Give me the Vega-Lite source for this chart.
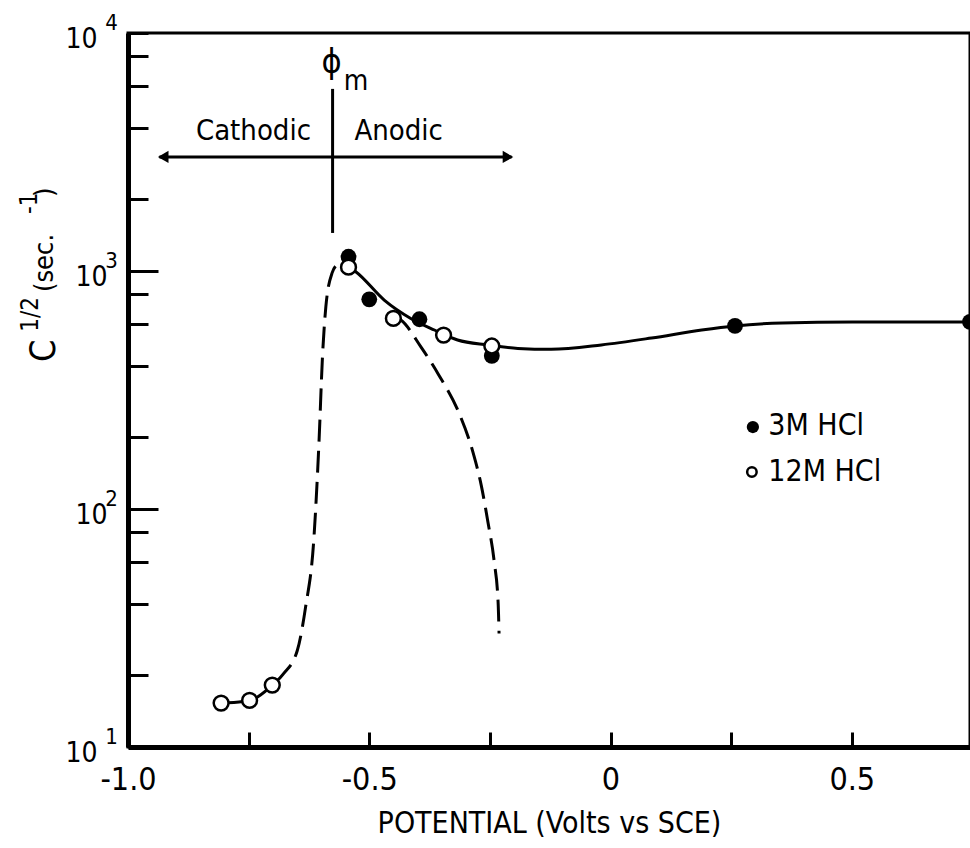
{
  "$schema": "https://vega.github.io/schema/vega-lite/v6.json",
  "width": 842,
  "height": 714,
  "autosize": {"type": "none"},
  "padding": {"left": 128, "top": 33, "right": 0, "bottom": 101},
  "background": "white",
  "config": {
    "view": {"stroke": "black", "strokeWidth": 3},
    "font": "Liberation Sans Narrow, DejaVu Sans Condensed, Liberation Sans",
    "text": {"color": "black"}
  },
  "datasets": {
    "solid": [
      {"x": -0.543, "y": 1040}, {"x": -0.528, "y": 993}, {"x": -0.469, "y": 755},
      {"x": -0.414, "y": 632}, {"x": -0.365, "y": 565}, {"x": -0.317, "y": 513},
      {"x": -0.254, "y": 489}, {"x": -0.192, "y": 473}, {"x": -0.123, "y": 469},
      {"x": -0.019, "y": 489}, {"x": 0.085, "y": 523}, {"x": 0.189, "y": 565},
      {"x": 0.258, "y": 588}, {"x": 0.356, "y": 605}, {"x": 0.501, "y": 611},
      {"x": 0.745, "y": 611}
    ],
    "dashL": [
      {"x": -0.807, "y": 15.3}, {"x": -0.748, "y": 15.7}, {"x": -0.701, "y": 18.2},
      {"x": -0.678, "y": 20.3}, {"x": -0.649, "y": 25.5}, {"x": -0.632, "y": 38.7},
      {"x": -0.615, "y": 74}, {"x": -0.604, "y": 195}, {"x": -0.597, "y": 435},
      {"x": -0.590, "y": 706}, {"x": -0.577, "y": 982}, {"x": -0.563, "y": 1082},
      {"x": -0.549, "y": 1125}
    ],
    "dashR": [
      {"x": -0.450, "y": 645}, {"x": -0.4345, "y": 622}, {"x": -0.393, "y": 480},
      {"x": -0.356, "y": 366}, {"x": -0.314, "y": 253}, {"x": -0.285, "y": 173},
      {"x": -0.268, "y": 126}, {"x": -0.254, "y": 88}, {"x": -0.241, "y": 60},
      {"x": -0.233, "y": 40.6}, {"x": -0.231, "y": 30}
    ],
    "m3": [
      {"x": -0.543, "y": 1148}, {"x": -0.500, "y": 760}, {"x": -0.396, "y": 627},
      {"x": -0.246, "y": 440}, {"x": 0.258, "y": 588}, {"x": 0.745, "y": 611}
    ],
    "m12": [
      {"x": -0.807, "y": 15.3}, {"x": -0.748, "y": 15.7}, {"x": -0.701, "y": 18.2},
      {"x": -0.543, "y": 1038}, {"x": -0.450, "y": 632}, {"x": -0.346, "y": 538},
      {"x": -0.246, "y": 484}
    ],
    "exponents": [
      {"x": -1.047, "y": 11, "label": "1"},
      {"x": -1.047, "y": 110, "label": "2"},
      {"x": -1.047, "y": 1100, "label": "3"},
      {"x": -1.047, "y": 11000, "label": "4"}
    ]
  },
  "encoding": {
    "x": {
      "field": "x", "type": "quantitative",
      "scale": {"domain": [-1, 0.745], "nice": false, "zero": false},
      "axis": {
        "title": "POTENTIAL (Volts vs SCE)",
        "values": [-1, -0.75, -0.5, -0.25, 0, 0.25, 0.5],
        "labelExpr": "datum.value == -1 ? '-1.0' : datum.value == -0.5 ? '-0.5' : datum.value == 0 ? '0' : datum.value == 0.5 ? '0.5' : ''",
        "grid": false,
        "domainColor": "black", "domainWidth": 5,
        "tickColor": "black", "tickWidth": 3, "tickSize": -15,
        "labelFontSize": 32, "labelColor": "black", "labelPadding": 32,
        "labelFlush": false, "labelOverlap": false,
        "titleFontSize": 30, "titleFontWeight": "normal", "titleColor": "black", "titlePadding": 13
      }
    },
    "y": {
      "field": "y", "type": "quantitative",
      "scale": {"type": "log", "domain": [10, 10000], "nice": false},
      "axis": {
        "title": null,
        "values": [10, 20, 40, 60, 80, 100, 200, 400, 600, 800, 1000, 2000, 4000, 6000, 8000, 10000],
        "labelExpr": "datum.value == 10 || datum.value == 100 || datum.value == 1000 || datum.value == 10000 ? '10' : ''",
        "grid": false,
        "domainColor": "black", "domainWidth": 5,
        "tickColor": "black", "tickWidth": 3,
        "tickSize": {"condition": {"test": "datum.value == 100 || datum.value == 1000", "value": -30}, "value": -20},
        "labelFontSize": 28, "labelColor": "black", "labelPadding": 51, "labelOffset": 6,
        "labelFlush": false, "labelOverlap": false
      }
    }
  },
  "layer": [
    {
      "data": {"name": "dashL"},
      "mark": {"type": "line", "interpolate": "monotone", "strokeDash": [22, 9], "strokeWidth": 3, "color": "black"}
    },
    {
      "data": {"name": "dashR"},
      "mark": {"type": "line", "interpolate": "monotone", "strokeDash": [22, 9], "strokeWidth": 3, "color": "black"}
    },
    {
      "data": {"name": "solid"},
      "mark": {"type": "line", "interpolate": "monotone", "strokeWidth": 3, "color": "black"}
    },
    {
      "data": {"values": [{"x": -0.576, "y": 1445, "y2": 5823}]},
      "mark": {"type": "rule", "strokeWidth": 3, "color": "black"},
      "encoding": {"y2": {"field": "y2"}}
    },
    {
      "data": {"values": [{"x": -0.935, "x2": -0.205, "y": 3013}]},
      "mark": {"type": "rule", "strokeWidth": 3, "color": "black"},
      "encoding": {"x2": {"field": "x2"}}
    },
    {
      "data": {"values": [
        {"x": -0.927, "y": 3013, "shape": "triangle-left"},
        {"x": -0.2125, "y": 3013, "shape": "triangle-right"}
      ]},
      "mark": {"type": "point", "filled": true, "color": "black", "size": 150, "opacity": 1},
      "encoding": {"shape": {"field": "shape", "type": "nominal", "scale": null}}
    },
    {
      "data": {"name": "m3"},
      "mark": {"type": "point", "filled": true, "color": "black", "size": 250, "opacity": 1}
    },
    {
      "data": {"name": "m12"},
      "mark": {"type": "point", "filled": true, "fill": "white", "stroke": "black", "strokeWidth": 2.5, "size": 220, "opacity": 1}
    },
    {
      "data": {"name": "exponents"},
      "mark": {"type": "text", "fontSize": 22, "align": "left", "baseline": "middle"},
      "encoding": {"text": {"field": "label"}}
    },
    {
      "data": {"values": [
        {"x": -0.740, "y": 3548, "label": "Cathodic"},
        {"x": -0.439, "y": 3548, "label": "Anodic"}
      ]},
      "mark": {"type": "text", "fontSize": 29, "align": "center", "baseline": "alphabetic"},
      "encoding": {"text": {"field": "label"}}
    },
    {
      "data": {"values": [{"x": -0.578, "y": 6790, "label": "ϕ"}]},
      "mark": {"type": "text", "fontSize": 34, "align": "center", "baseline": "alphabetic"},
      "encoding": {"text": {"field": "label"}}
    },
    {
      "data": {"values": [{"x": -0.553, "y": 5754, "label": "m"}]},
      "mark": {"type": "text", "fontSize": 28, "align": "left", "baseline": "alphabetic"},
      "encoding": {"text": {"field": "label"}}
    },
    {
      "data": {"values": [{"x": 0.295, "y": 221}]},
      "mark": {"type": "point", "filled": true, "color": "black", "size": 150, "opacity": 1}
    },
    {
      "data": {"values": [{"x": 0.293, "y": 143}]},
      "mark": {"type": "point", "filled": true, "fill": "white", "stroke": "black", "strokeWidth": 2.5, "size": 90, "opacity": 1}
    },
    {
      "data": {"values": [
        {"x": 0.327, "y": 223, "label": "3M HCl"},
        {"x": 0.327, "y": 143, "label": "12M HCl"}
      ]},
      "mark": {"type": "text", "fontSize": 30, "align": "left", "baseline": "middle"},
      "encoding": {"text": {"field": "label"}}
    },
    {
      "data": {"values": [{"x": -1.152, "y": 415, "label": "C"}]},
      "mark": {"type": "text", "fontSize": 36, "angle": 270, "align": "left", "baseline": "alphabetic"},
      "encoding": {"text": {"field": "label"}}
    },
    {
      "data": {"values": [
        {"x": -1.187, "y": 555, "label": "1/2"},
        {"x": -1.189, "y": 1734, "label": "-1"}
      ]},
      "mark": {"type": "text", "fontSize": 24, "angle": 270, "align": "left", "baseline": "alphabetic"},
      "encoding": {"text": {"field": "label"}}
    },
    {
      "data": {"values": [
        {"x": -1.156, "y": 816, "label": "(sec."},
        {"x": -1.156, "y": 2048, "label": ")"}
      ]},
      "mark": {"type": "text", "fontSize": 27, "angle": 270, "align": "left", "baseline": "alphabetic"},
      "encoding": {"text": {"field": "label"}}
    }
  ]
}
